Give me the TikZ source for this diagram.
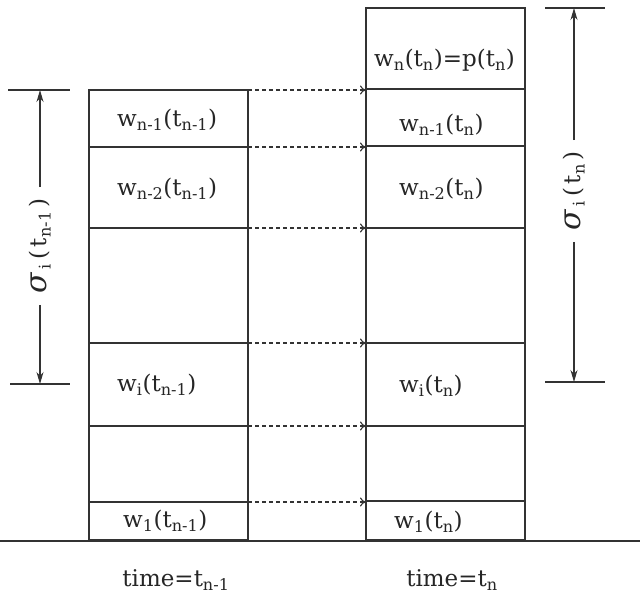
\documentclass[tikz,border=0pt]{standalone}
\usepackage{fontspec}
\setmainfont{DejaVu Serif}
\usetikzlibrary{arrows.meta}
\newcommand{\bigsig}{{\fontsize{30}{30}\selectfont\itshape σ}}
\begin{document}
\begin{tikzpicture}[x=1pt,y=-1pt,
  cell/.style={draw=black!80, line width=1.3pt, minimum width=159pt, inner sep=0pt, outer sep=0pt},
  lab/.style={font=\fontsize{23}{27}\selectfont, anchor=west, inner sep=0pt, text=black!85},
  tlab/.style={font=\fontsize{23}{27}\selectfont, inner sep=0pt, text=black!85},
  flow/.style={draw=black!80, line width=1.1pt, dash pattern=on 4pt off 3pt, -{To[length=6pt,width=9pt]}},
  dim/.style={draw=black!80, line width=1.1pt, -{Stealth[length=12pt,width=7pt]}},
  tick/.style={draw=black!80, line width=1.3pt},
  siglab/.style={font=\fontsize{23}{27}\selectfont, rotate=90, inner xsep=11pt, inner ysep=0pt, text=black!85},
]
\useasboundingbox (0,0) rectangle (640,595);
% left column cells
\node[cell, minimum height=57pt]  (L1) at (168.5,118.5) {};
\node[cell, minimum height=81pt]  (L2) at (168.5,187.5) {};
\node[cell, minimum height=115pt] (L3) at (168.5,285.5) {};
\node[cell, minimum height=83pt]  (L4) at (168.5,384.5) {};
\node[cell, minimum height=76pt]  (L5) at (168.5,464) {};
\node[cell, minimum height=38pt]  (L6) at (168.5,521) {};
% right column cells
\node[cell, minimum height=81pt]  (R7) at (445.5,48.5) {};
\node[cell, minimum height=57pt]  (R6) at (445.5,117.5) {};
\node[cell, minimum height=82pt]  (R5) at (445.5,187) {};
\node[cell, minimum height=115pt] (R4) at (445.5,285.5) {};
\node[cell, minimum height=83pt]  (R3) at (445.5,384.5) {};
\node[cell, minimum height=75pt]  (R2) at (445.5,463.5) {};
\node[cell, minimum height=39pt]  (R1) at (445.5,520.5) {};
% dashed transfer arrows
\draw[flow] (L1.north east) -- (L1.north east -| R6.west);
\draw[flow] (L2.north east) -- (L2.north east -| R5.west);
\draw[flow] (L3.north east) -- (L3.north east -| R4.west);
\draw[flow] (L4.north east) -- (L4.north east -| R3.west);
\draw[flow] (L5.north east) -- (L5.north east -| R2.west);
\draw[flow] (L6.north east) -- (L6.north east -| R1.west);
% ground line
\coordinate (g0) at (0,541);
\coordinate (g1) at (640,541);
\draw[tick] (g0) -- (g1);
% cell texts, left
\node[lab] (tl1) at (117,120) {w\textsubscript{n-1}(t\textsubscript{n-1})};
\node[lab] (tl2) at (117,189) {w\textsubscript{n-2}(t\textsubscript{n-1})};
\node[lab] (tl4) at (117,385) {w\textsubscript{i}(t\textsubscript{n-1})};
\node[lab] (tl6) at (123,521) {w\textsubscript{1}(t\textsubscript{n-1})};
% cell texts, right
\node[lab] (tr7) at (374,60) {w\textsubscript{n}(t\textsubscript{n})=p(t\textsubscript{n})};
\node[lab] (tr6) at (399,125) {w\textsubscript{n-1}(t\textsubscript{n})};
\node[lab] (tr5) at (399,189) {w\textsubscript{n-2}(t\textsubscript{n})};
\node[lab] (tr3) at (399,386) {w\textsubscript{i}(t\textsubscript{n})};
\node[lab] (tr1) at (394,522) {w\textsubscript{1}(t\textsubscript{n})};
% time labels
\node[tlab] (time1) at (176,580) {time=t\textsubscript{n-1}};
\node[tlab] (time2) at (452,580) {time=t\textsubscript{n}};
% left dimension
\coordinate (lta) at (8,90);   \coordinate (ltb) at (70,90);
\coordinate (lba) at (10,384); \coordinate (lbb) at (70,384);
\coordinate (lt) at (40,90);   \coordinate (lb) at (40,384);
\draw[tick] (lta) -- (ltb);
\draw[tick] (lba) -- (lbb);
\node[siglab] (sl) at (40,246) {\bigsig\,\textsubscript{i}\,(\,t\textsubscript{n-1}\,)};
\draw[dim] (sl.east) -- (lt);
\draw[dim] (sl.west) -- (lb);
% right dimension
\coordinate (rta) at (545,8);   \coordinate (rtb) at (605,8);
\coordinate (rba) at (545,382); \coordinate (rbb) at (605,382);
\coordinate (rt) at (574,8);    \coordinate (rb) at (574,382);
\draw[tick] (rta) -- (rtb);
\draw[tick] (rba) -- (rbb);
\node[siglab] (sr) at (574,191) {\bigsig\,\textsubscript{i}\,(\,t\textsubscript{n}\,)};
\draw[dim] (sr.east) -- (rt);
\draw[dim] (sr.west) -- (rb);
\end{tikzpicture}
\end{document}
